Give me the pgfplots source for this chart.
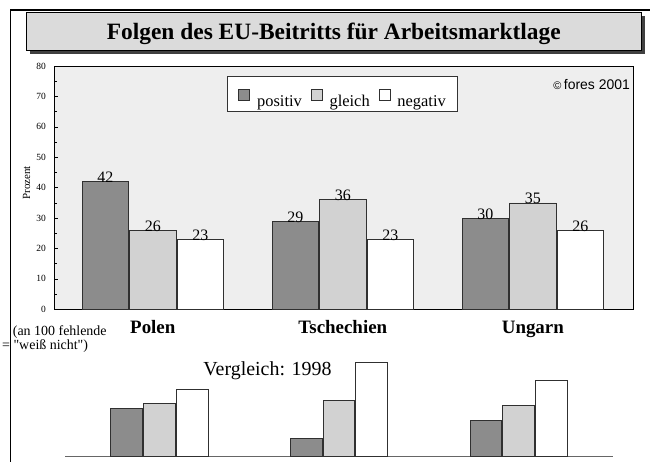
\documentclass[border=0pt]{standalone}
\usepackage{pgfplots}
\pgfplotsset{compat=1.18}
\usepackage{pgfplotstable}
\usepackage{fontspec}
\setmainfont{Liberation Serif}
\newfontfamily\sans{Liberation Sans}
\newfontfamily\plainserif{Liberation Serif}
\definecolor{cpos}{HTML}{8C8C8C}
\definecolor{cgle}{HTML}{D2D2D2}
\definecolor{cneg}{HTML}{FFFFFF}
\definecolor{bg}{HTML}{EEEEEE}
\definecolor{edge}{HTML}{303030}

\pgfplotstableread{
x pos gle neg
0 42 26 23
1 29 36 23
2 30 35 26
}\tabnow
\pgfplotstableread{
x pos gle neg
0 16 17.5 22
1 6 18.5 31
2 12 17 25
}\tabold

\begin{document}
\begin{tikzpicture}[x=1bp,y=1bp]
\path[use as bounding box] (0,0) rectangle (650,462);
% frame
\draw[line width=1.6bp] (10.5,-1) -- (10.5,452) -- (651,452);
% title box
\fill[black!75] (30,408) rectangle (645,446);
\draw[fill=black!14, line width=0.8bp] (26,411.3) rectangle (641.7,450);
\node[anchor=base, font=\fontsize{23.5}{23.5}\selectfont\bfseries, inner sep=0] at (333.8,422) {Folgen des EU-Beitritts für Arbeitsmarktlage};

\begin{axis}[
  at={(54bp,152.7bp)}, anchor=south west,
  width=579bp, height=243.3bp, scale only axis,
  ybar=1bp, bar width=46.5bp,
  xmin=-0.52, xmax=2.527, ymin=0, ymax=80,
  axis background/.style={fill=bg},
  axis line style={black, line width=0.8bp},
  xtick={0,1,2}, xticklabels={Polen,Tschechien,Ungarn},
  major x tick style={draw=none},
  xticklabel style={font=\fontsize{19}{19}\selectfont\bfseries, inner sep=0pt, anchor=base, yshift=-24bp},
  ytick={0,10,...,80}, minor y tick num=1, ytick pos=left, tick align=inside,
  major tick length=4bp, minor tick length=3bp,
  tick style={black, line width=0.5bp},
  yticklabel style={font=\fontsize{9.5}{9.5}\selectfont, inner sep=0pt, xshift=-8bp},
  /pgf/number format/assume math mode=true,
  ylabel={Prozent},
  ylabel style={at={(axis description cs:-0.0472,0.52)}, anchor=center, font=\fontsize{11}{11}\selectfont},
  nodes near coords,
  nodes near coords style={font=\fontsize{16}{16}\selectfont, inner sep=0pt, anchor=south, yshift=-1.5bp, text=black},
  legend columns=3,
  legend style={at={(0.2983,0.815)}, anchor=south west, draw=black!80, fill=white,
    font=\fontsize{16.5}{16.5}\selectfont, inner xsep=11.5bp, inner ysep=2.4bp,
    nodes={inner sep=0pt},
    /tikz/every odd column/.append style={column sep=7bp},
    /tikz/every even column/.append style={column sep=9bp}},
  legend image code/.code={\path (0bp,22.9bp); \draw[#1,draw=edge] (0bp,2bp) rectangle (11bp,13bp);},
  every axis plot/.append style={draw=edge, line width=0.7bp},
]
\addplot[fill=cpos] table[x=x,y=pos] {\tabnow};
\addplot[fill=cgle] table[x=x,y=gle] {\tabnow};
\addplot[fill=cneg] table[x=x,y=neg] {\tabnow};
\legend{positiv,gleich,negativ}
\end{axis}

\node[anchor=base east, inner sep=0, font=\sans\fontsize{14}{14}\selectfont] at (630,372.7) {{\fontsize{11}{11}\selectfont©}\,fores 2001};

\node[anchor=base west, inner sep=0, font=\fontsize{14}{14}\selectfont] at (12.7,126) {(an 100 fehlende};
\node[anchor=base west, inner sep=0, font=\plainserif\fontsize{14}{14}\selectfont] at (2,112.3) {= "weiß nicht")};

\begin{axis}[
  at={(65bp,5.3bp)}, anchor=south west,
  width=547.7bp, height=97.3bp, scale only axis,
  ybar=1bp, bar width=31.7bp,
  xmin=-0.525, xmax=2.524, ymin=0, ymax=32,
  axis x line*=bottom, axis y line=none, xtick=\empty,
  axis line style={black!60, line width=1.2bp},
  every axis plot/.append style={draw=edge, line width=0.7bp},
  clip=false,
]
\addplot[fill=cpos] table[x=x,y=pos] {\tabold};
\addplot[fill=cgle] table[x=x,y=gle] {\tabold};
\addplot[fill=cneg] table[x=x,y=neg] {\tabold};
\end{axis}

\node[anchor=base, inner sep=0, font=\fontsize{20}{20}\selectfont] at (267.5,86) {Vergleich: 1998};
\end{tikzpicture}
\end{document}
